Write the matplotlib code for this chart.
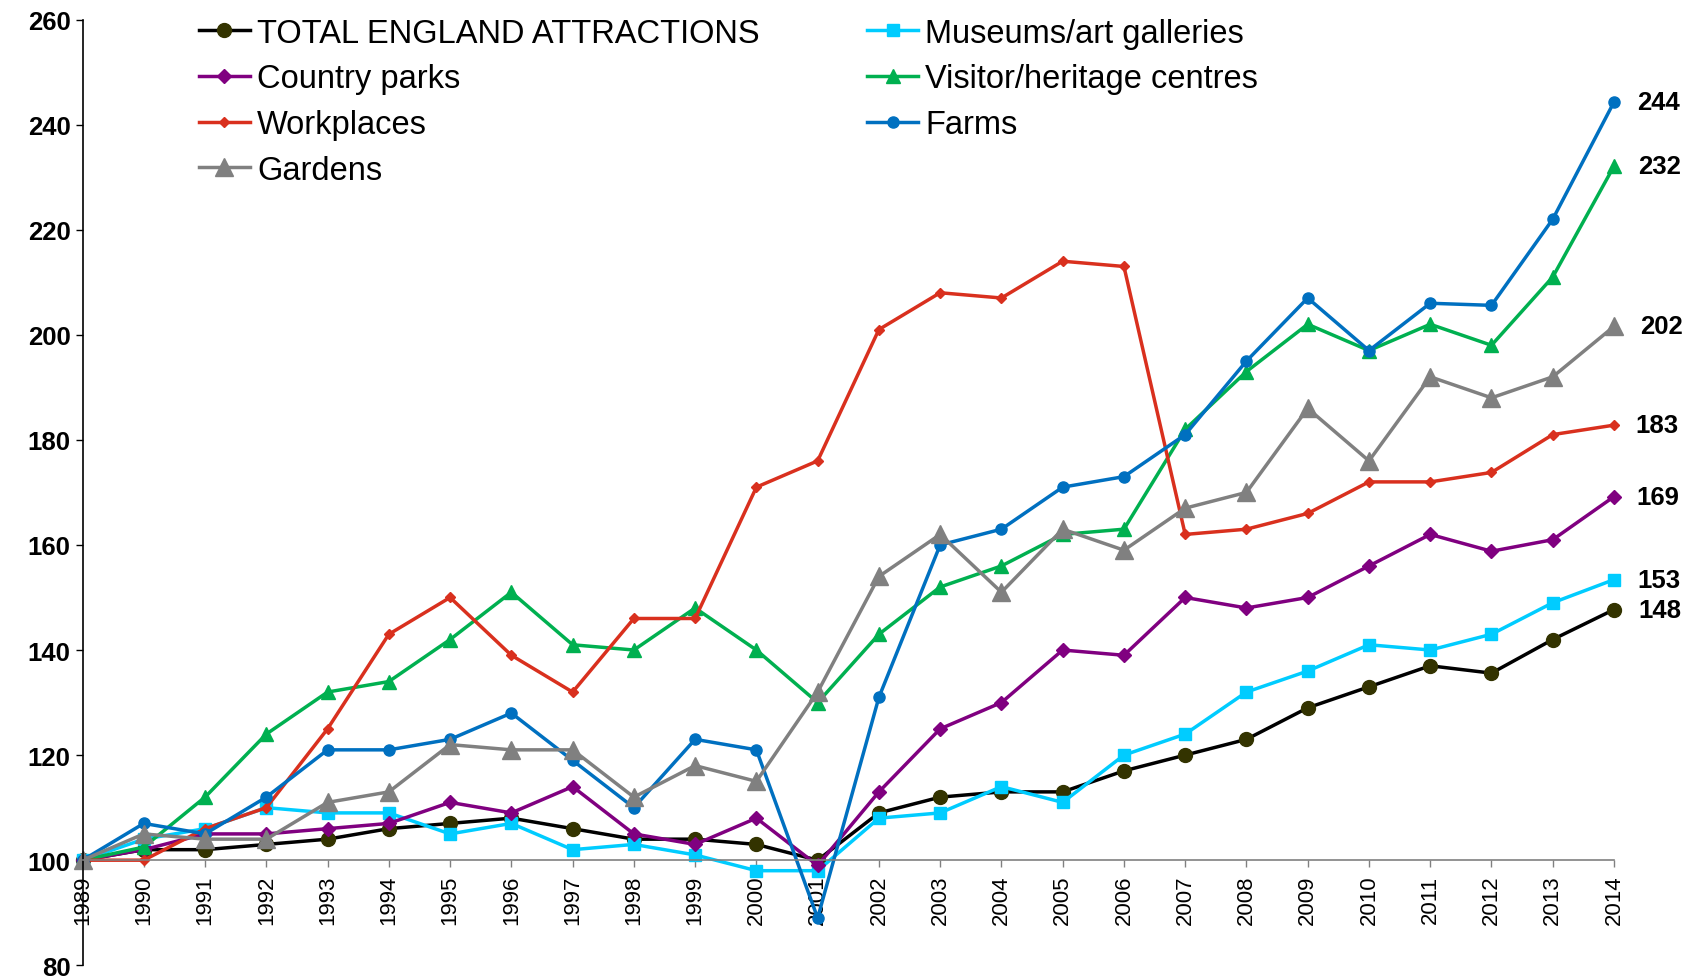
import matplotlib.pyplot as plt

plt.rcParams['font.family'] = ['Liberation Sans', 'DejaVu Sans']

years = list(range(1989, 2015))

total = [100, 102, 102, 103, 104, 106, 107, 108, 106, 104, 104, 103, 100,
         109, 112, 113, 113, 117, 120, 123, 129, 133, 137, 135.6, 142, 147.7]
museums = [100, 104, 106, 110, 109, 109, 105, 107, 102, 103, 101, 98, 98,
           108, 109, 114, 111, 120, 124, 132, 136, 141, 140, 143, 149, 153.4]
country_parks = [100, 102, 105, 105, 106, 107, 111, 109, 114, 105, 103, 108, 99,
                 113, 125, 130, 140, 139, 150, 148, 150, 156, 162, 158.8, 161, 169.2]
visitor = [100, 102.5, 112, 124, 132, 134, 142, 151, 141, 140, 148, 140, 130,
           143, 152, 156, 162, 163, 182, 193, 202, 197, 202, 198, 211, 232.1]
workplaces = [100, 100, 106, 110, 125, 143, 150, 139, 132, 146, 146, 171, 176,
              201, 208, 207, 214, 213, 162, 163, 166, 172, 172, 173.8, 181, 182.8]
farms = [100, 107, 105, 112, 121, 121, 123, 128, 119, 110, 123, 121, 89,
         131, 160, 163, 171, 173, 181, 195, 207, 197, 206, 205.6, 222, 244.3]
gardens = [100, 105, 104, 104, 111, 113, 122, 121, 121, 112, 118, 115, 132,
           154, 162, 151, 163, 159, 167, 170, 186, 176, 192, 188, 192, 201.6]

# label, values, line colour, marker, marker size, marker face colour
series = [
    ("TOTAL ENGLAND ATTRACTIONS", total, "#000000", "o", 10, "#333300"),
    ("Museums/art galleries", museums, "#00CCFF", "s", 8, "#00CCFF"),
    ("Country parks", country_parks, "#800080", "D", 7.5, "#800080"),
    ("Visitor/heritage centres", visitor, "#00B050", "^", 10, "#00B050"),
    ("Workplaces", workplaces, "#D9301E", "D", 5.5, "#D9301E"),
    ("Farms", farms, "#0070C0", "o", 8, "#0070C0"),
    ("Gardens", gardens, "#808080", "^", 13, "#808080"),
]

fig = plt.figure(figsize=(17.02, 9.78), dpi=100)
ax = fig.add_axes([0.0485, 0.012, 0.8998, 0.967])

handles = []
for label, vals, col, mk, ms, mfc in series:
    h, = ax.plot(years, vals, color=col, lw=2.5, marker=mk, markersize=ms,
                 markerfacecolor=mfc, markeredgecolor=mfc, label=label,
                 clip_on=False)
    handles.append(h)
    ax.annotate(f"{vals[-1]:.0f}", xy=(years[-1], vals[-1]),
                xytext=(ms / 2 + 12.5, 0), textcoords="offset points",
                ha="left", va="center", fontsize=18.5, fontweight="bold",
                annotation_clip=False)

ax.set_xlim(1989, 2014)
ax.set_ylim(80, 260)

ax.spines["top"].set_visible(False)
ax.spines["right"].set_visible(False)
ax.spines["bottom"].set_position(("data", 100))
ax.spines["bottom"].set_color("#808080")
ax.spines["bottom"].set_linewidth(1.2)
ax.spines["left"].set_color("#000000")
ax.spines["left"].set_linewidth(1.2)
ax.tick_params(axis="x", direction="out", length=5, width=1, color="#808080",
               pad=5.5, labelrotation=90, labelsize=16)
ax.tick_params(axis="y", direction="out", length=5, width=1, color="#000000",
               pad=3.5, labelsize=18.5)

ax.set_yticks(range(80, 261, 20))
ax.set_xticks(years)
ax.set_xticklabels([str(y) for y in years])
for t in ax.get_yticklabels():
    t.set_fontweight("bold")

# Excel-style two-column legend: fill rows first
order = [0, 2, 4, 6, 1, 3, 5]
ax.legend([handles[i] for i in order], [series[i][0] for i in order],
          ncol=2, loc="upper left", bbox_to_anchor=(0.117, 0.981),
          bbox_transform=fig.transFigure, frameon=False, fontsize=23.5,
          handlelength=1.55, handletextpad=0.22, labelspacing=0.45,
          columnspacing=3.3, borderpad=0, borderaxespad=0)

fig.savefig("out.png", dpi=100)
